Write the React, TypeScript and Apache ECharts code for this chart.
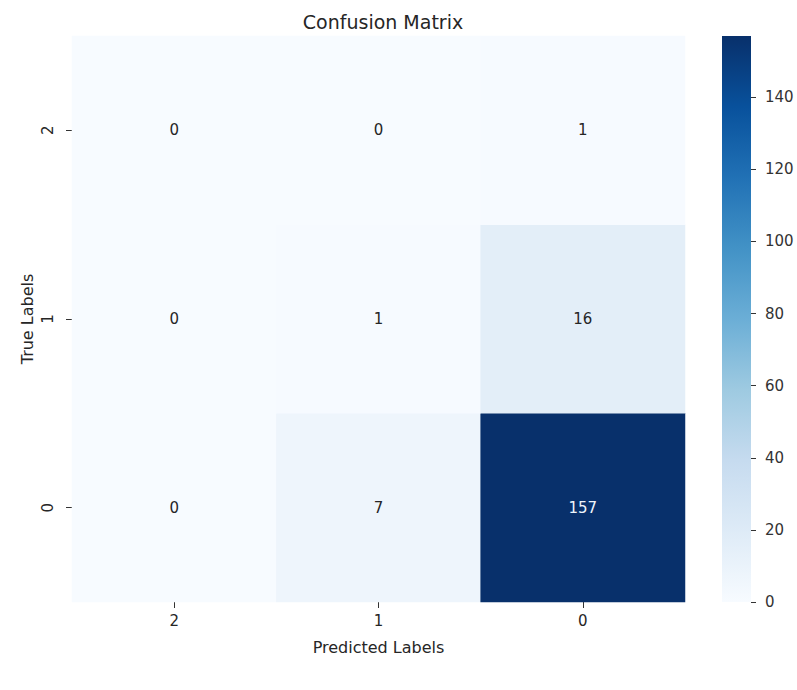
import React, { useEffect, useRef } from "react";
import * as echarts from "echarts";

// Confusion matrix: columns are predicted labels, rows are true labels (bottom to top)
const predictedLabels = ["2", "1", "0"];
const trueLabels = ["0", "1", "2"];
const rowTrue0 = [0, 7, 157];
const rowTrue1 = [0, 1, 16];
const rowTrue2 = [0, 0, 1];
const countRows = [rowTrue0, rowTrue1, rowTrue2];

const colorbarMax = 157;
const colorbarInterval = 20;

// matplotlib "Blues" colormap anchors, low to high
const blues = [
  "#f7fbff",
  "#deebf7",
  "#c6dbef",
  "#9ecae1",
  "#6baed6",
  "#4292c6",
  "#2171b5",
  "#08519c",
  "#08306b",
];

const FONT = "DejaVu Sans";

export default function App() {
  const ref = useRef<HTMLDivElement>(null);

  useEffect(() => {
    if (!ref.current) return;
    const chart = echarts.init(ref.current, undefined, { renderer: "svg" });

    const cells: any[] = [];
    countRows.forEach((row, yi) => {
      row.forEach((v, xi) => {
        cells.push({
          value: [xi, yi, v],
          label: { color: v / colorbarMax > 0.6 ? "#eef4fb" : "#262626" },
        });
      });
    });

    const gradientStops = blues
      .slice()
      .reverse()
      .map((c, i) => ({ offset: i / (blues.length - 1), color: c }));

    chart.setOption({
      animation: false,
      backgroundColor: "#ffffff",
      title: {
        text: "Confusion Matrix",
        left: 378,
        top: 7,
        textAlign: "center",
        textStyle: { fontFamily: FONT, fontSize: 19, fontWeight: "normal", color: "#262626" },
      },
      grid: [
        { left: 72, top: 36, width: 613, height: 566 },
        { left: 722, top: 36, width: 29, height: 566 },
      ],
      visualMap: {
        show: false,
        min: 0,
        max: colorbarMax,
        seriesIndex: 0,
        dimension: 2,
        inRange: { color: blues },
      },
      xAxis: [
        {
          type: "category",
          gridIndex: 0,
          data: predictedLabels,
          name: "Predicted Labels",
          nameLocation: "middle",
          nameGap: 37,
          nameMoveOverlap: false,
          nameTextStyle: { fontFamily: FONT, fontSize: 16, color: "#262626" },
          axisLine: { show: false },
          axisTick: { show: true, alignWithLabel: true, length: 6, lineStyle: { color: "#333" } },
          axisLabel: { fontFamily: FONT, fontSize: 15, color: "#262626", margin: 11 },
          splitLine: { show: false },
        },
        {
          type: "category",
          gridIndex: 1,
          data: ["scale"],
          show: false,
        },
      ],
      yAxis: [
        {
          type: "category",
          gridIndex: 0,
          data: trueLabels,
          name: "True Labels",
          nameLocation: "middle",
          nameGap: 37,
          nameMoveOverlap: false,
          nameTextStyle: { fontFamily: FONT, fontSize: 16, color: "#262626" },
          axisLine: { show: false },
          axisTick: { show: true, alignWithLabel: true, length: 6, lineStyle: { color: "#333" } },
          axisLabel: { fontFamily: FONT, fontSize: 15, color: "#262626", rotate: 90, margin: 17 },
          splitLine: { show: false },
        },
        {
          type: "value",
          gridIndex: 1,
          position: "right",
          min: 0,
          max: colorbarMax,
          interval: colorbarInterval,
          axisLine: { show: false },
          axisTick: { show: true, length: 5, lineStyle: { color: "#333" } },
          axisLabel: {
            fontFamily: FONT,
            fontSize: 15,
            color: "#333",
            margin: 14,
            showMaxLabel: false,
          },
          splitLine: { show: false },
        },
      ],
      series: [
        {
          type: "heatmap",
          xAxisIndex: 0,
          yAxisIndex: 0,
          data: cells,
          label: { show: true, fontFamily: FONT, fontSize: 15 },
          itemStyle: { borderWidth: 0 },
          emphasis: { disabled: true },
        },
        {
          type: "bar",
          xAxisIndex: 1,
          yAxisIndex: 1,
          data: [colorbarMax],
          barWidth: "100%",
          itemStyle: {
            color: new echarts.graphic.LinearGradient(0, 0, 0, 1, gradientStops),
          },
          silent: true,
        },
      ],
    });

    return () => chart.dispose();
  }, []);

  return (
    <div
      ref={ref}
      style={{ position: "fixed", left: 0, top: 0, width: 797, height: 690, background: "#fff" }}
    />
  );
}
